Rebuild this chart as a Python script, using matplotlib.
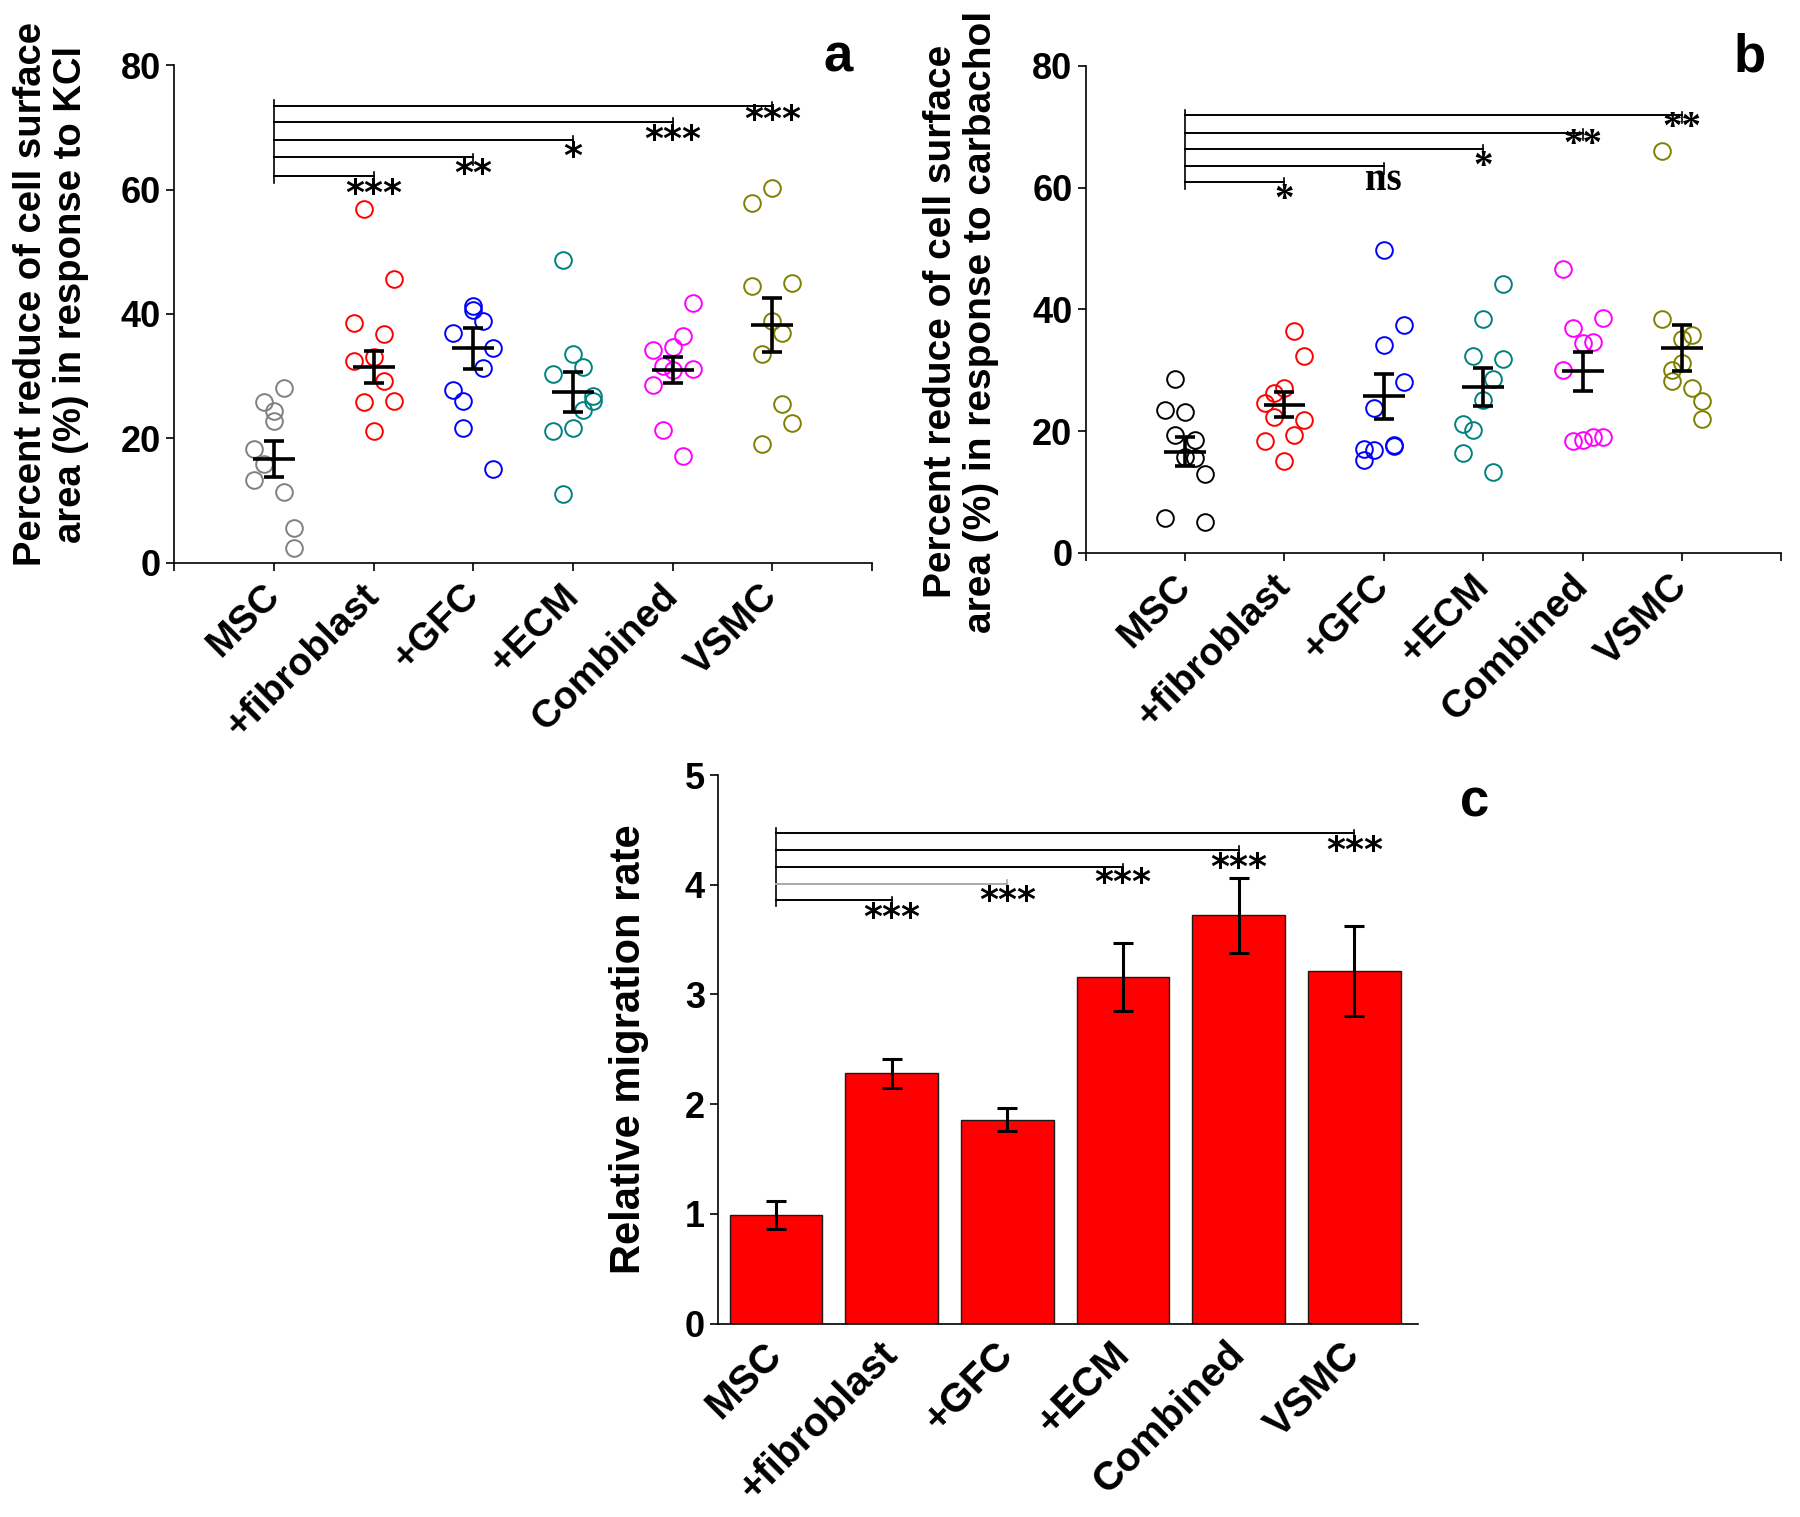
import matplotlib
matplotlib.use("Agg")
import matplotlib.pyplot as plt
import numpy as np

# ---------------- data ----------------
groups = ["MSC", "+fibroblast", "+GFC", "+ECM", "Combined", "VSMC"]
colors_a = ["#808080", "#ff0000", "#0000ff", "#008080", "#ff00ff", "#808000"]
colors_b = ["#000000", "#ff0000", "#0000ff", "#008080", "#ff00ff", "#808000"]

# Panel a: KCl
a_msc = [28.1, 25.9, 24.4, 22.7, 18.3, 15.8, 13.2, 11.3, 5.6, 2.3]
a_fib = [56.9, 45.7, 38.6, 36.7, 32.4, 33.1, 29.2, 25.9, 26.0, 21.1]
a_gfc = [41.3, 40.6, 38.9, 36.9, 34.5, 31.3, 27.8, 26.0, 21.7, 15.1]
a_ecm = [48.7, 33.5, 31.5, 30.3, 26.8, 26.0, 24.5, 21.1, 21.7, 11.1]
a_comb = [41.7, 36.5, 34.7, 34.2, 31.7, 31.2, 30.9, 28.5, 21.4, 17.1]
a_vsmc = [60.2, 57.8, 44.5, 44.9, 38.9, 37.0, 33.5, 25.5, 22.5, 19.0]
a_jit_msc = [0.1, -0.1, 0, 0, -0.2, -0.1, -0.2, 0.1, 0.2, 0.2]
a_jit_fib = [-0.1, 0.2, -0.2, 0.1, -0.2, 0, 0.1, -0.1, 0.2, 0]
a_jit_gfc = [0, 0, 0.1, -0.2, 0.2, 0.1, -0.2, -0.1, -0.1, 0.2]
a_jit_ecm = [-0.1, 0, 0.1, -0.2, 0.2, 0.2, 0.1, -0.2, 0, -0.1]
a_jit_comb = [0.2, 0.1, 0, -0.2, -0.1, 0.2, 0, -0.2, -0.1, 0.1]
a_jit_vsmc = [0, -0.2, -0.2, 0.2, 0, 0.1, -0.1, 0.1, 0.2, -0.1]
a_mean = [16.7, 31.5, 34.5, 27.5, 31.0, 38.2]
a_sem = [2.9, 2.6, 3.3, 3.2, 2.1, 4.4]
a_sig = ["***", "**", "*", "***", "***"]
a_bracket_y = [62.2, 65.2, 68.0, 70.9, 73.5]
a_star_y = [59.3, 62.5, 65.2, 68.0, 71.2]

# Panel b: carbachol
b_msc = [28.6, 23.5, 23.1, 19.3, 18.6, 15.8, 15.5, 12.9, 5.8, 5.1]
b_fib = [36.4, 32.4, 27.1, 26.3, 24.6, 22.3, 21.9, 19.4, 18.3, 15.1]
b_gfc = [49.8, 37.4, 34.1, 28.1, 23.8, 17.7, 17.5, 16.9, 17.0, 15.3]
b_ecm = [44.2, 38.4, 32.4, 31.9, 28.6, 25.1, 21.2, 20.2, 16.4, 13.2]
b_comb = [46.7, 38.6, 37.0, 34.7, 34.4, 30.1, 18.3, 18.6, 19.1, 19.1]
b_vsmc = [66.0, 38.4, 35.8, 35.1, 31.2, 30.0, 28.2, 27.1, 24.9, 22.0]
b_jit_msc = [-0.1, -0.2, 0, -0.1, 0.1, 0, 0.1, 0.2, -0.2, 0.2]
b_jit_fib = [0.1, 0.2, 0, -0.1, -0.2, -0.1, 0.2, 0.1, -0.2, 0]
b_jit_gfc = [0, 0.2, 0, 0.2, -0.1, 0.1, 0.1, -0.1, -0.2, -0.2]
b_jit_ecm = [0.2, 0, -0.1, 0.2, 0.1, 0, -0.2, -0.1, -0.2, 0.1]
b_jit_comb = [-0.2, 0.2, -0.1, 0.1, 0, -0.2, -0.1, 0, 0.1, 0.2]
b_jit_vsmc = [-0.2, -0.2, 0.1, 0, 0, -0.1, -0.1, 0.1, 0.2, 0.2]
b_mean = [16.6, 24.3, 25.7, 27.2, 29.8, 33.7]
b_sem = [2.35, 2.05, 3.7, 3.1, 3.25, 3.8]
b_sig = ["*", "ns", "*", "**", "**"]
b_bracket_y = [61.0, 63.5, 66.4, 69.0, 71.9]
b_star_y = [57.9, 61.2, 63.4, 66.9, 69.7]

# Panel c: migration
c_mean = [0.99, 2.28, 1.86, 3.16, 3.72, 3.21]
c_err = [0.13, 0.13, 0.105, 0.31, 0.34, 0.41]
c_sig = ["***", "***", "***", "***", "***"]
c_bracket_y = [3.86, 4.01, 4.16, 4.32, 4.47]
c_star_y = [3.70, 3.85, 4.02, 4.15, 4.31]

a_points = [a_msc, a_fib, a_gfc, a_ecm, a_comb, a_vsmc]
a_jits = [a_jit_msc, a_jit_fib, a_jit_gfc, a_jit_ecm, a_jit_comb, a_jit_vsmc]
b_points = [b_msc, b_fib, b_gfc, b_ecm, b_comb, b_vsmc]
b_jits = [b_jit_msc, b_jit_fib, b_jit_gfc, b_jit_ecm, b_jit_comb, b_jit_vsmc]

# ---------------- style ----------------
plt.rcParams['font.family'] = ['Liberation Sans', 'DejaVu Sans']
plt.rcParams['font.weight'] = 'bold'
TICK_FS = 26
XLAB_FS = 28
SANS_STAR = ['DejaVu Sans']
SERIF_STAR = ['Liberation Serif', 'DejaVu Serif']

fig = plt.figure(figsize=(18, 15.17), dpi=100)
ax_a = fig.add_axes([0.0969, 0.6292, 0.3875, 0.3277])
ax_b = fig.add_axes([0.6031, 0.6356, 0.3866, 0.3209])
ax_c = fig.add_axes([0.3989, 0.1275, 0.3889, 0.3616])

xpos = np.arange(1, len(groups) + 1)


def style_axes(ax):
    for s in ["top", "right"]:
        ax.spines[s].set_visible(False)
    for s in ["left", "bottom"]:
        ax.spines[s].set_linewidth(1.2)
    ax.tick_params(axis="both", which="both", direction="out", length=6,
                   width=1.2, labelsize=TICK_FS)


def scatter_panel(ax, points, jits, colors, means, sems, sig, br_y, st_y,
                  ylabel, ylab_fs, star_family, star_size):
    for i, (vals, jit) in enumerate(zip(points, jits)):
        x = xpos[i] + np.array(jit)
        ax.plot(x, vals, linestyle="none", marker="o", markersize=12,
                markerfacecolor="none", markeredgecolor=colors[i],
                markeredgewidth=1.4, zorder=2)
    ax.hlines(means, xpos - 0.21, xpos + 0.21, colors="black", lw=2.6, zorder=3)
    ax.errorbar(xpos, means, yerr=sems, fmt="none", ecolor="black",
                elinewidth=2.6, capsize=7, capthick=2.6, zorder=3)
    top = max(br_y) + 0.9
    bot = min(br_y) - 1.2
    ax.plot([xpos[0], xpos[0]], [bot, top], color="black", lw=1.2)
    for k, yb in enumerate(br_y):
        xe = xpos[k + 1]
        ax.plot([xpos[0], xe], [yb, yb], color="black", lw=1.4)
        ax.plot([xe, xe], [yb + 0.6, yb - 1.2], color="black", lw=1.2)
        ax.text(xe, st_y[k], sig[k], ha="center", va="center",
                fontsize=star_size, fontweight="bold", family=star_family)
    ax.set_xlim(0, 7)
    ax.set_ylim(0, 80)
    ax.set_yticks([0, 20, 40, 60, 80])
    ax.set_xticks(xpos)
    ax.set_xticks([0, 7], minor=True)
    style_axes(ax)
    ax.set_xticklabels(groups, rotation=45, ha="right", va="center",
                       rotation_mode="anchor", fontsize=XLAB_FS,
                       fontweight="bold")
    ax.tick_params(axis="x", pad=14)
    ax.set_ylabel(ylabel, fontsize=ylab_fs, fontweight="bold",
                  linespacing=1.15)


scatter_panel(ax_a, a_points, a_jits, colors_a, a_mean, a_sem, a_sig,
              a_bracket_y, a_star_y,
              "Percent reduce of cell surface\narea (%) in response to KCl",
              27.5, SANS_STAR, 26)
ax_a.yaxis.set_label_coords(-0.122, 0.54)

scatter_panel(ax_b, b_points, b_jits, colors_b, b_mean, b_sem, b_sig,
              b_bracket_y, b_star_y,
              "Percent reduce of cell surface\narea (%) in response to carbachol",
              28, SERIF_STAR, 28)
ax_b.yaxis.set_label_coords(-0.124, 0.475)

# Panel c bars
ax_c.bar(xpos, c_mean, width=0.8, color="#ff0000", edgecolor="#1a1a1a",
         linewidth=1.0, zorder=2)
ax_c.errorbar(xpos, c_mean, yerr=c_err, fmt="none", ecolor="black",
              elinewidth=2.2, capsize=7, capthick=2.2, zorder=3)
top = max(c_bracket_y) + 0.05
bot = min(c_bracket_y) - 0.05
ax_c.plot([xpos[0], xpos[0]], [bot, top], color="black", lw=1.2)
for k, yb in enumerate(c_bracket_y):
    xe = xpos[k + 1]
    col = "#aaaaaa" if k == 1 else "black"
    ax_c.plot([xpos[0], xe], [yb, yb], color=col, lw=1.4)
    ax_c.plot([xe, xe], [yb + 0.03, yb - 0.07], color=col, lw=1.2)
    ax_c.text(xe, c_star_y[k], c_sig[k], ha="center", va="center",
              fontsize=26, fontweight="bold", family=SANS_STAR)
ax_c.set_xlim(0.5, 6.55)
ax_c.set_ylim(0, 5)
ax_c.set_yticks([0, 1, 2, 3, 4, 5])
ax_c.set_xticks(xpos)
style_axes(ax_c)
ax_c.tick_params(axis="x", length=0, pad=18)
ax_c.set_xticklabels(groups, rotation=45, ha="right", va="center",
                     rotation_mode="anchor", fontsize=29,
                     fontweight="bold")
ax_c.set_ylabel("Relative migration rate", fontsize=30, fontweight="bold")
ax_c.yaxis.set_label_coords(-0.098, 0.5)

for ax in (ax_a, ax_b, ax_c):
    for lab in ax.get_yticklabels():
        lab.set_fontweight("bold")

fig.text(0.4656, 0.962, "a", fontsize=38, fontweight="bold", ha="center", va="center")
fig.text(0.972, 0.962, "b", fontsize=38, fontweight="bold", ha="center", va="center")
fig.text(0.8194, 0.4707, "c", fontsize=38, fontweight="bold", ha="center", va="center")

fig.savefig("out.png", dpi=100, facecolor="white")
